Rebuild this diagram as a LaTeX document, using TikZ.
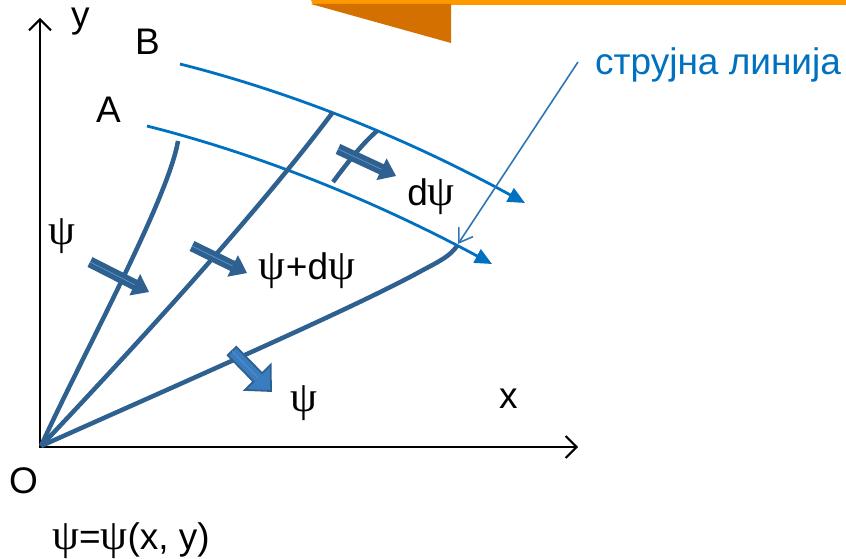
\documentclass[tikz,border=0pt]{standalone}
\usepackage{fontspec}
\setmainfont{Liberation Sans}
\newfontfamily\psifont{Liberation Serif}
\usetikzlibrary{arrows.meta,calc}
\definecolor{lorange}{HTML}{FF9900}
\definecolor{dorange}{HTML}{D37000}
\definecolor{sblue}{HTML}{0070C0}
\definecolor{dblue}{HTML}{2E6090}
\definecolor{cblue}{HTML}{2E75B6}
\definecolor{mblue}{HTML}{3A7CC0}
\definecolor{hblue}{HTML}{5B8FC8}
\newcommand{\ps}{{\psifont\fontsize{43}{48}\selectfont ψ}}
% #1 style, #2 tail, #3 tip, #4 shaft half width, #5 head half width, #6 head length
\newcommand\blkarrow[6][fill=dblue]{%
  \coordinate (hb) at ($(#3)!#6pt!(#2)$);
  \path[#1] ($(#2)!#4pt!90:(#3)$) -- ($(hb)!#4pt!90:(#3)$) -- ($(hb)!#5pt!90:(#3)$) -- (#3)
    -- ($(hb)!#5pt!-90:(#3)$) -- ($(hb)!#4pt!-90:(#3)$) -- ($(#2)!#4pt!-90:(#3)$) -- cycle;
  \draw[hblue, line width=0.8pt] (#2) -- (hb);
}
\begin{document}
\begin{tikzpicture}[x=1pt,y=-1pt,
  lbl/.style={font=\fontsize{37}{44}\selectfont, inner sep=0pt},
  stream/.style={sblue, line width=2.8pt, -{Triangle[length=17pt,width=15pt]}},
  psiline/.style={dblue, line width=4.5pt},
  axis/.style={black, line width=2pt},
  callout/.style={cblue, line width=1.6pt, -{Straight Barb[length=13pt,width=17pt]}}]
\useasboundingbox (0,0) rectangle (846,559);
% orange banner
\fill[lorange] (311,0) -- (846,0) -- (846,5) -- (313,5) -- cycle;
\fill[dorange] (311,4) -- (451,4) -- (451,43) -- cycle;
% coordinates
\coordinate (O) at (41,446);
\coordinate (ax) at (40,447);
\coordinate (yend) at (40,18);
\coordinate (xend) at (578,447);
\coordinate (Btop) at (180,64);
\coordinate (Bend) at (525,203);
\coordinate (Atop) at (147,126);
\coordinate (Aend) at (492,264);
\coordinate (L1) at (178,141);
\coordinate (L2) at (333,112);
\coordinate (k3) at (423,270);
\coordinate (L3) at (457,246);
\coordinate (S1) at (333,182);
\coordinate (S2) at (377,131);
\coordinate (C1) at (578,62);
\coordinate (C2) at (458,244);
% axes
\draw[axis, {Straight Barb[length=11pt,width=22pt]}-{Straight Barb[length=11pt,width=22pt]}] (yend) -- (ax) -- (xend);
% streamlines A, B
\draw[stream] (Btop) .. controls (295,93) and (410,140) .. (Bend);
\draw[stream] (Atop) .. controls (262,155) and (377,202) .. (Aend);
% psi lines
\draw[psiline] (O) .. controls (80,360) and (168,200) .. (L1);
\draw[psiline] (O) .. controls (141,340) and (258,212) .. (L2);
\draw[psiline] (O) .. controls (200,375) and (360,305) .. (k3) .. controls (440,261) and (450,256) .. (L3);
\draw[psiline] (S1) .. controls (348,162) and (362,144) .. (S2);
% callout
\draw[callout] (C1) -- (C2);
% block arrows
\coordinate (a1s) at (90,262);  \coordinate (a1e) at (149,292);
\coordinate (a2s) at (192,246); \coordinate (a2e) at (247,273);
\coordinate (a3s) at (338,149); \coordinate (a3e) at (396,176);
\coordinate (a4s) at (232,351); \coordinate (a4e) at (271,391);
\blkarrow{a1s}{a1e}{5.5}{12}{16}
\blkarrow{a2s}{a2e}{5.5}{12}{16}
\blkarrow{a3s}{a3e}{5.5}{12}{16}
\blkarrow[fill=mblue, draw=dblue, line width=1.8pt, line join=miter]{a4s}{a4e}{6}{18}{19}
% labels
\node[lbl, anchor=base west] (ylab) at (71,28) {y};
\node[lbl, anchor=base west] (Blab) at (135,55) {B};
\node[lbl, anchor=base west] (Alab) at (96,123) {A};
\node[lbl, anchor=base west] (Olab) at (9,493) {O};
\node[lbl, anchor=base west] (xlab) at (499,408) {x};
\node[lbl] (psi1) at (62,236) {\ps};
\node[lbl] (psi2) at (307,271) {\ps+d\ps};
\node[lbl] (dpsi) at (431,197) {d\ps};
\node[lbl] (psi3) at (304,403) {\ps};
\node[lbl, text=sblue, anchor=base west] (slab) at (595,75) {струјна линија};
\node[lbl] (eq) at (131,541) {\ps=\ps(x, y)};
\end{tikzpicture}
\end{document}
